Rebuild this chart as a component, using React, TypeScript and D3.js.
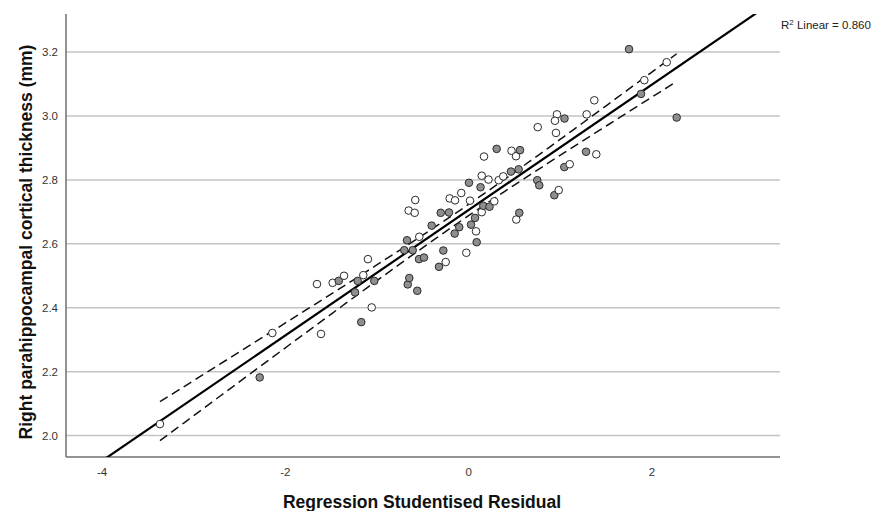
import { useEffect, useRef } from 'react';
import * as d3 from 'd3';

// residual (x), thickness (y), grupo (1 = gris, 0 = blanco)
const residual = [
  -3.368, -2.280, -2.142, -1.611, -1.655, -1.484, -1.418, -1.360, -1.240, -1.211,
  -1.172, -1.150, -1.099, -1.058, -1.030, -0.703, -0.665, -0.648, -0.673, -0.611,
  -0.561, -0.542, -0.488, -0.539, -0.655, -0.583, -0.589, -0.404, -0.324, -0.305,
  -0.277, -0.251, -0.215, -0.207, -0.149, -0.153, -0.103, -0.081, -0.026, 0.003,
  0.014, 0.025, 0.069, 0.080, 0.087, 0.142, 0.129, 0.142, 0.159, 0.167,
  0.216, 0.227, 0.279, 0.305, 0.327, 0.377, 0.461, 0.467, 0.516, 0.519,
  0.552, 0.545, 0.560, 0.748, 0.753, 0.770, 0.934, 0.952, 0.963, 0.941,
  0.982, 1.045, 1.043, 1.102, 1.280, 1.287, 1.370, 1.392, 1.749, 1.880,
  1.916, 2.160, 2.269,
];
const thickness = [
  2.036, 2.182, 2.321, 2.318, 2.474, 2.478, 2.484, 2.500, 2.448, 2.484,
  2.355, 2.502, 2.552, 2.401, 2.484, 2.580, 2.473, 2.493, 2.611, 2.580,
  2.453, 2.552, 2.557, 2.622, 2.704, 2.737, 2.697, 2.657, 2.528, 2.697,
  2.579, 2.543, 2.698, 2.742, 2.736, 2.632, 2.652, 2.759, 2.572, 2.791,
  2.735, 2.660, 2.681, 2.639, 2.605, 2.813, 2.777, 2.699, 2.719, 2.873,
  2.801, 2.716, 2.733, 2.897, 2.799, 2.811, 2.826, 2.891, 2.874, 2.676,
  2.697, 2.833, 2.893, 2.799, 2.965, 2.783, 2.752, 2.947, 3.005, 2.985,
  2.768, 2.992, 2.840, 2.849, 2.888, 3.005, 3.049, 2.880, 3.209, 3.069,
  3.112, 3.168, 2.995,
];
const grupo = [
  0, 1, 0, 0, 0, 0, 1, 0, 1, 1,
  1, 0, 0, 0, 1, 1, 1, 1, 1, 1,
  1, 1, 1, 0, 0, 0, 0, 1, 1, 1,
  1, 0, 1, 0, 0, 1, 1, 0, 0, 1,
  0, 1, 1, 0, 1, 0, 1, 0, 1, 0,
  0, 1, 0, 1, 0, 0, 1, 0, 0, 0,
  1, 1, 1, 1, 0, 1, 1, 0, 0, 0,
  0, 1, 1, 0, 1, 0, 0, 0, 1, 1,
  0, 0, 1,
];

const xTicks = [-4, -2, 0, 2];
const yTicks = [2.0, 2.2, 2.4, 2.6, 2.8, 3.0, 3.2];
const r2Texto = '0.860';

const FONT = "'Liberation Sans', Arial, sans-serif";

const App = () => {
  const svgRef = useRef<SVGSVGElement>(null);

  useEffect(() => {
    const width = 874;
    const height = 511;
    const plot = { left: 66, right: 780, top: 14, bottom: 457 };

    const svg = d3.select(svgRef.current);
    svg.selectAll('*').remove();
    svg.attr('width', width).attr('height', height);

    const x = d3.scaleLinear().domain([-4.393, 3.396]).range([plot.left, plot.right]);
    const y = d3.scaleLinear().domain([1.933, 3.319]).range([plot.bottom, plot.top]);

    // Gridlines horizontales
    svg.append('g')
      .selectAll('line')
      .data(yTicks)
      .join('line')
      .attr('x1', plot.left)
      .attr('x2', plot.right)
      .attr('y1', (d) => y(d))
      .attr('y2', (d) => y(d))
      .attr('stroke', '#c4c4c4')
      .attr('stroke-width', 1.5);

    // Ejes
    svg.append('line')
      .attr('x1', plot.left).attr('x2', plot.left)
      .attr('y1', plot.top).attr('y2', plot.bottom)
      .attr('stroke', '#707070').attr('stroke-width', 1.5);
    svg.append('line')
      .attr('x1', plot.left).attr('x2', plot.right)
      .attr('y1', plot.bottom).attr('y2', plot.bottom)
      .attr('stroke', '#707070').attr('stroke-width', 1.5);

    // Etiquetas de ticks
    svg.append('g')
      .selectAll('text')
      .data(yTicks)
      .join('text')
      .attr('x', 58)
      .attr('y', (d) => y(d))
      .attr('dy', '0.35em')
      .attr('text-anchor', 'end')
      .style('font-family', FONT)
      .style('font-size', '11.5px')
      .attr('fill', '#333')
      .text((d) => d3.format('.1f')(d));

    svg.append('g')
      .selectAll('text')
      .data(xTicks)
      .join('text')
      .attr('x', (d) => x(d))
      .attr('y', 476)
      .attr('text-anchor', 'middle')
      .style('font-family', FONT)
      .style('font-size', '11.5px')
      .attr('fill', '#333')
      .text((d) => d);

    // Ajuste lineal + IC de la media
    const pts = residual.map((r, i) => ({ x: r, y: thickness[i], g: grupo[i] }));
    const n = pts.length;
    const mx = d3.mean(pts, (d) => d.x) as number;
    const my = d3.mean(pts, (d) => d.y) as number;
    const sxx = d3.sum(pts, (d) => (d.x - mx) ** 2);
    const sxy = d3.sum(pts, (d) => (d.x - mx) * (d.y - my));
    const slope = sxy / sxx;
    const intercept = my - slope * mx;
    const sse = d3.sum(pts, (d) => (d.y - (intercept + slope * d.x)) ** 2);
    const s = Math.sqrt(sse / (n - 2));
    const t = 1.99;
    const fit = (v: number) => intercept + slope * v;
    const half = (v: number) => t * s * Math.sqrt(1 / n + (v - mx) ** 2 / sxx);

    const [xmin, xmax] = d3.extent(pts, (d) => d.x) as [number, number];
    const grid = d3.range(0, 61).map((i) => xmin + ((xmax - xmin) * i) / 60);

    const line = d3.line<number>().x((v) => x(v));

    svg.append('path')
      .attr('d', line.y((v) => y(fit(v) + half(v)))(grid))
      .attr('fill', 'none').attr('stroke', '#111').attr('stroke-width', 1.5)
      .attr('stroke-dasharray', '9,5');
    svg.append('path')
      .attr('d', line.y((v) => y(fit(v) - half(v)))(grid))
      .attr('fill', 'none').attr('stroke', '#111').attr('stroke-width', 1.5)
      .attr('stroke-dasharray', '9,5');

    // Línea de regresión recortada al área del gráfico
    svg.append('clipPath').attr('id', 'area')
      .append('rect')
      .attr('x', plot.left).attr('y', plot.top)
      .attr('width', plot.right - plot.left).attr('height', plot.bottom - plot.top);

    const [dx0, dx1] = x.domain();
    svg.append('line')
      .attr('clip-path', 'url(#area)')
      .attr('x1', x(dx0)).attr('y1', y(fit(dx0)))
      .attr('x2', x(dx1)).attr('y2', y(fit(dx1)))
      .attr('stroke', '#000').attr('stroke-width', 2.2);

    // Puntos
    svg.append('g')
      .selectAll('circle')
      .data(pts)
      .join('circle')
      .attr('cx', (d) => x(d.x))
      .attr('cy', (d) => y(d.y))
      .attr('r', 3.8)
      .attr('fill', (d) => (d.g ? '#8e8e8e' : '#ffffff'))
      .attr('stroke', '#2b2b2b')
      .attr('stroke-width', 1);

    // R²
    const r2 = svg.append('text')
      .attr('x', 781).attr('y', 29)
      .style('font-family', FONT)
      .style('font-size', '11.5px')
      .attr('fill', '#222');
    r2.append('tspan').text('R');
    r2.append('tspan').attr('dy', -4).style('font-size', '8px').text('2');
    r2.append('tspan').attr('dy', 4).text(` Linear = ${r2Texto}`);

    // Títulos de ejes
    svg.append('text')
      .attr('x', 422).attr('y', 508)
      .attr('text-anchor', 'middle')
      .style('font-family', FONT)
      .style('font-size', '17.5px')
      .style('font-weight', 'bold')
      .attr('fill', '#111')
      .text('Regression Studentised Residual');

    svg.append('text')
      .attr('transform', 'translate(32,242) rotate(-90)')
      .attr('text-anchor', 'middle')
      .style('font-family', FONT)
      .style('font-size', '17.5px')
      .style('font-weight', 'bold')
      .attr('fill', '#111')
      .text('Right parahippocampal cortical thickness (mm)');
  }, []);

  return <svg ref={svgRef} style={{ position: 'absolute', left: 0, top: 0 }}></svg>;
};

export default App;
